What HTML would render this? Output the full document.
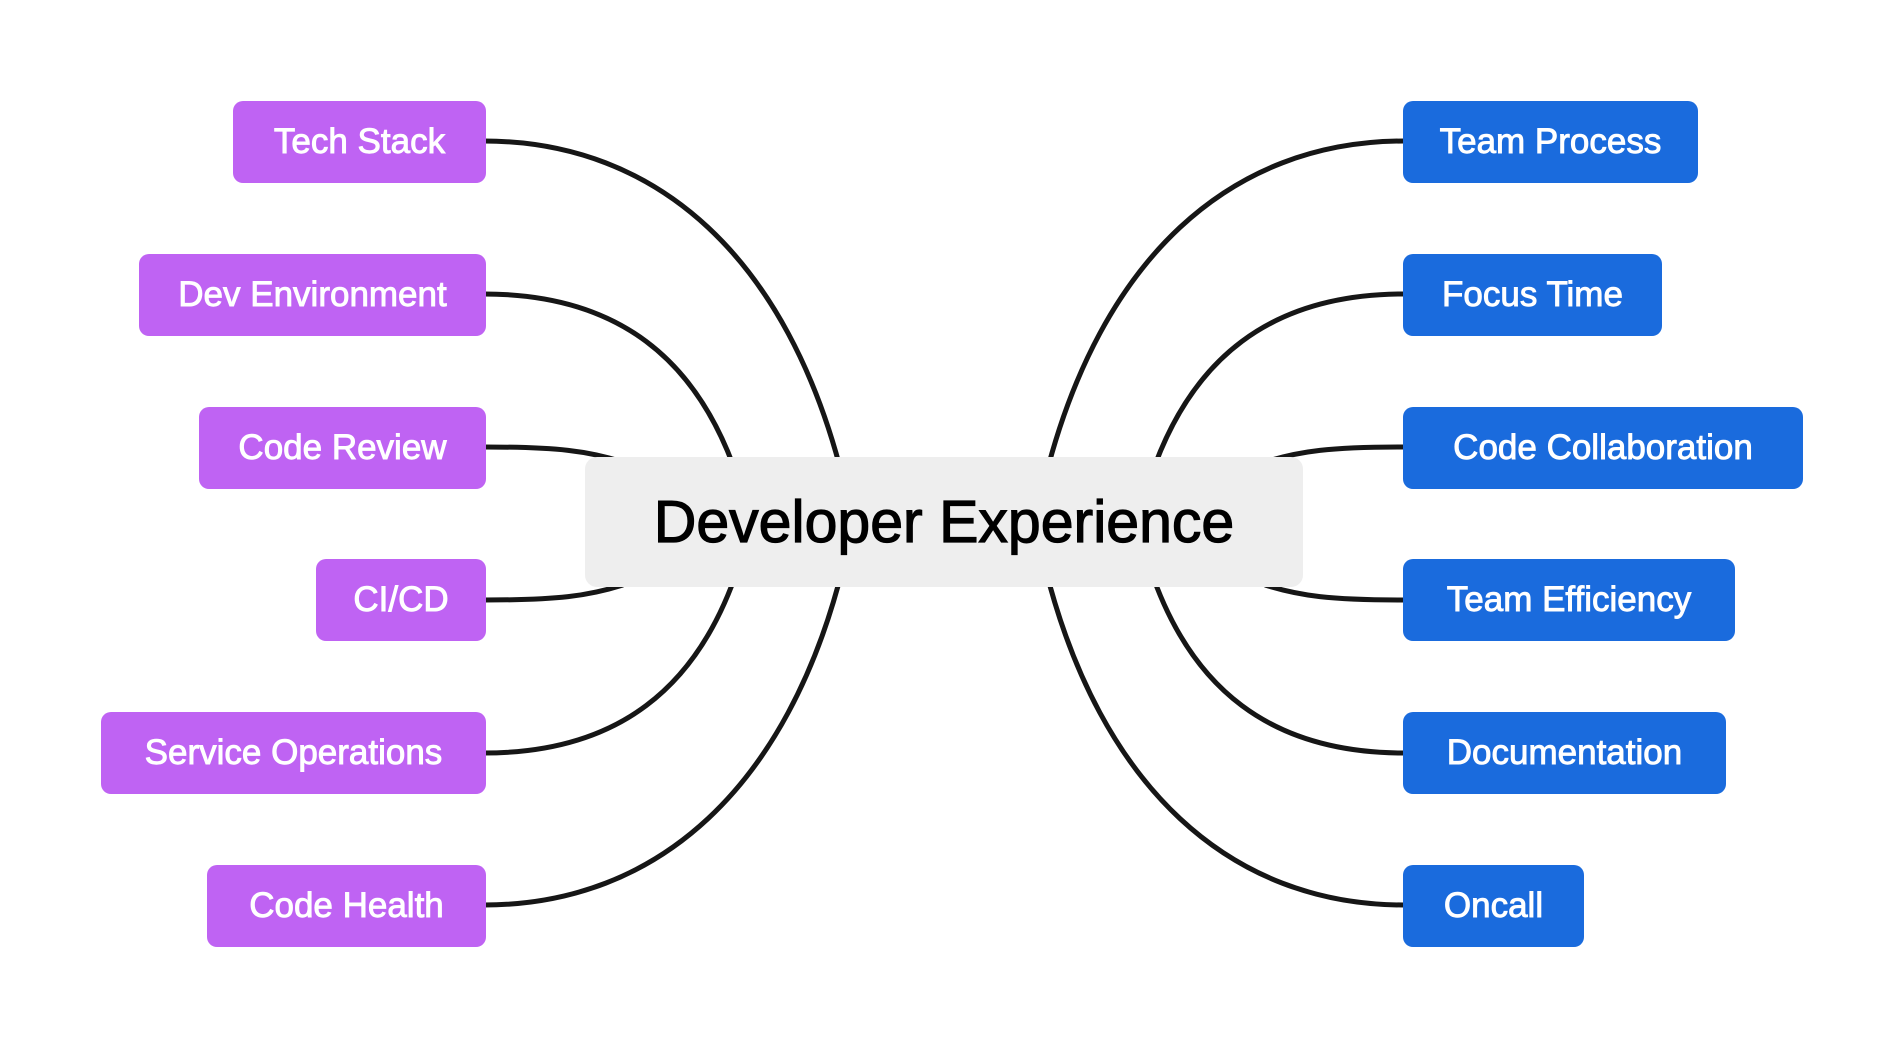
<!DOCTYPE html>
<html><head><meta charset="utf-8"><style>
body{margin:0;width:1896px;height:1044px;background:#fff;position:relative;overflow:hidden;font-family:"Liberation Sans",sans-serif}
svg{position:absolute;left:0;top:0}
.b{position:absolute;height:82px;border-radius:10px;color:#fff;font-size:35px;line-height:82px;text-align:center;-webkit-text-stroke:0.9px #fff;box-sizing:border-box}
.p{background:#BF63F3}
.u{background:#1A6BDD}
#c{position:absolute;left:585px;top:457px;width:718px;height:130px;background:#EEEEEE;border-radius:12px;font-size:59px;line-height:130px;text-align:center;color:#000;-webkit-text-stroke:1.2px #000}
</style></head><body>
<svg width="1896" height="1044" fill="none" stroke="#161616" stroke-width="5">
<g>
<path d="M484,141 C658,141 788,259 843,479"/>
<path d="M484,294 C618,294 698,359 738,479"/>
<path d="M484,447 C558,447 588,451 623,462"/>
<path d="M484,600 C558,600 588,596 623,585"/>
<path d="M484,753 C618,753 698,688 738,568"/>
<path d="M484,905 C658,905 788,787 843,567"/>
</g>
<g transform="translate(1888,0) scale(-1,1)">
<path d="M484,141 C658,141 788,259 843,479"/>
<path d="M484,294 C618,294 698,359 738,479"/>
<path d="M484,447 C558,447 588,451 623,462"/>
<path d="M484,600 C558,600 588,596 623,585"/>
<path d="M484,753 C618,753 698,688 738,568"/>
<path d="M484,905 C658,905 788,787 843,567"/>
</g>
</svg>
<div id="c">Developer Experience</div>
<div class="b p" style="left:233px;top:101px;width:253px">Tech Stack</div>
<div class="b p" style="left:139px;top:254px;width:347px">Dev Environment</div>
<div class="b p" style="left:199px;top:407px;width:287px">Code Review</div>
<div class="b p" style="left:316px;top:559px;width:170px">CI/CD</div>
<div class="b p" style="left:101px;top:712px;width:385px">Service Operations</div>
<div class="b p" style="left:207px;top:865px;width:279px">Code Health</div>
<div class="b u" style="left:1403px;top:101px;width:295px">Team Process</div>
<div class="b u" style="left:1403px;top:254px;width:259px">Focus Time</div>
<div class="b u" style="left:1403px;top:407px;width:400px">Code Collaboration</div>
<div class="b u" style="left:1403px;top:559px;width:332px">Team Efficiency</div>
<div class="b u" style="left:1403px;top:712px;width:323px">Documentation</div>
<div class="b u" style="left:1403px;top:865px;width:181px">Oncall</div>
</body></html>
